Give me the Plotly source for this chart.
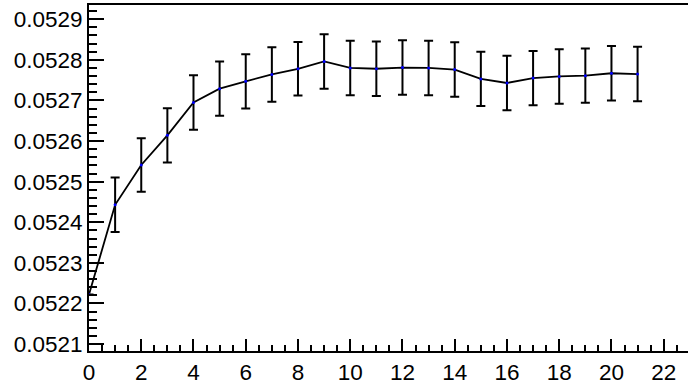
import plotly.graph_objects as go

x_vals = list(range(22))
y_vals = [0.052222, 0.052443, 0.052541, 0.052614, 0.052695, 0.052729,
          0.052747, 0.052764, 0.052778, 0.052796, 0.052780, 0.052778,
          0.052781, 0.052780, 0.052776, 0.052753, 0.052743, 0.052755,
          0.052759, 0.052761, 0.052767, 0.052765]
y_err = [0.0, 6.7e-5, 6.6e-5, 6.7e-5, 6.7e-5, 6.7e-5, 6.7e-5, 6.7e-5,
         6.6e-5, 6.7e-5, 6.7e-5, 6.7e-5, 6.7e-5, 6.7e-5, 6.7e-5, 6.7e-5,
         6.7e-5, 6.7e-5, 6.7e-5, 6.7e-5, 6.7e-5, 6.7e-5]

fig = go.Figure()
fig.add_trace(go.Scatter(
    x=x_vals, y=y_vals,
    mode="lines+markers",
    line=dict(color="black", width=1.8),
    marker=dict(color="blue", size=3),
    error_y=dict(type="data", array=y_err, visible=True,
                 color="black", thickness=2, width=4.5),
    showlegend=False,
))

font = dict(family="Liberation Sans, Arial, sans-serif", size=22.5, color="black")

fig.update_layout(
    width=688, height=385,
    margin=dict(l=89, r=0, t=5, b=26),
    paper_bgcolor="white", plot_bgcolor="white",
    font=font,
    xaxis=dict(
        range=[0, 22.93], showgrid=False, zeroline=False,
        showline=True, linecolor="black", linewidth=2, mirror=True,
        ticks="inside", ticklen=12, tickwidth=1.5, tickcolor="black",
        tick0=0, dtick=2,
        minor=dict(ticks="inside", ticklen=6, tickwidth=1.5,
                   tickcolor="black", dtick=0.5, showgrid=False),
        tickfont=font,
    ),
    yaxis=dict(
        range=[0.052083, 0.052935], showgrid=False, zeroline=False,
        showline=True, linecolor="black", linewidth=2, mirror=False,
        ticks="inside", ticklen=15, tickwidth=1.5, tickcolor="black",
        tick0=0.0521, dtick=0.0001, tickformat=".4f",
        minor=dict(ticks="inside", ticklen=8, tickwidth=1.5,
                   tickcolor="black", dtick=0.00002, showgrid=False),
        tickfont=font,
    ),
)

fig.write_html(
    "out.html",
    config={"displayModeBar": False},
    post_script="document.body.style.margin='0';document.body.style.overflow='hidden';",
)
